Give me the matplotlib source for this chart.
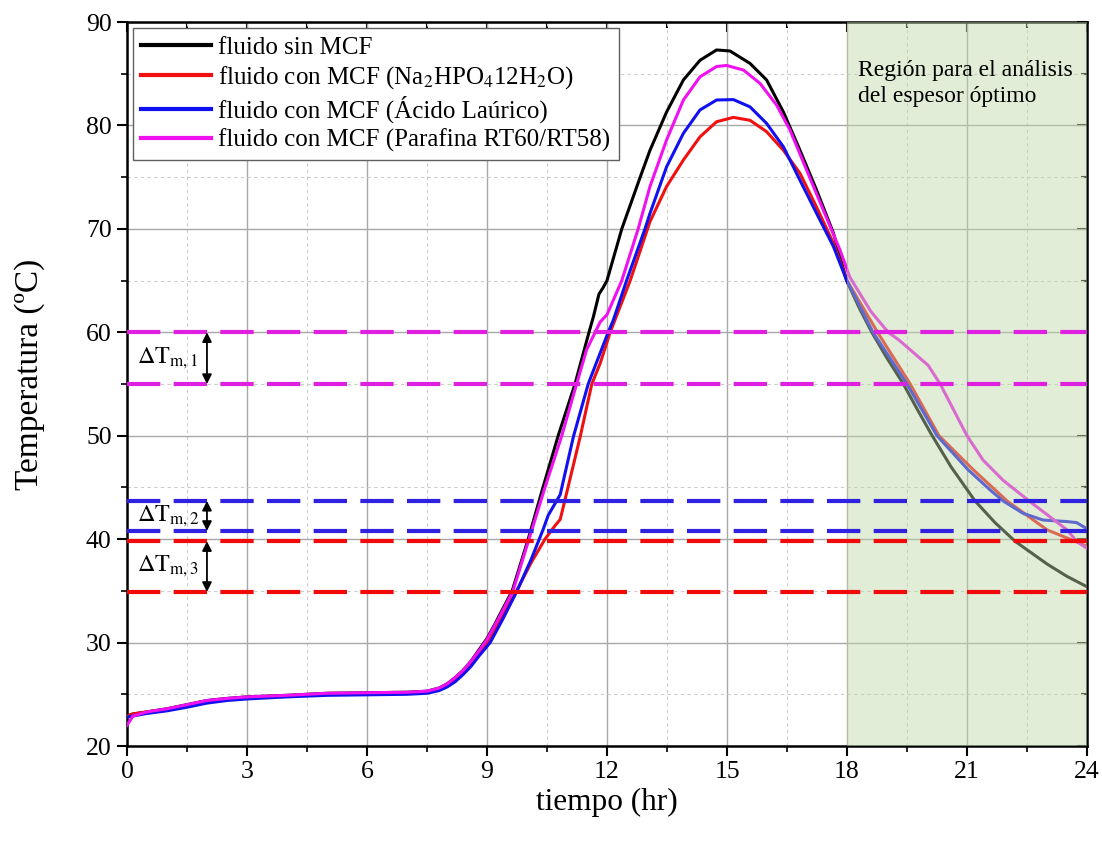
import matplotlib
matplotlib.use("Agg")
import matplotlib.pyplot as plt
from matplotlib.ticker import MultipleLocator

plt.rcParams['font.family'] = ['Liberation Serif', 'DejaVu Serif']
plt.rcParams['mathtext.fontset'] = 'stix'

# --- curves (hora, temperatura) ---
t_sin = [0, 0.15, 0.5, 1.0, 1.5, 2.0, 2.5, 3.0, 4.0, 5.0, 6.0, 7.0, 7.5, 7.8, 8.0, 8.2, 8.4,
         8.6, 8.8, 9.0, 9.2, 9.4, 9.63, 10.03, 10.4, 10.78, 11.2, 11.55, 11.66, 11.8, 11.9,
         12.0, 12.37, 12.83, 13.075, 13.49, 13.91, 14.325, 14.74, 15.075, 15.575, 15.99,
         16.41, 16.825, 17.24, 17.66, 17.99, 18.3, 18.62, 19.0, 19.41, 19.75, 20.1, 20.6,
         21.2, 21.7, 22.2, 23.0, 23.5, 24.0]
T_sin = [22.9, 23.1, 23.3, 23.6, 24.0, 24.4, 24.6, 24.75, 24.9, 25.1, 25.15, 25.2, 25.3, 25.6,
         26.0, 26.6, 27.3, 28.2, 29.3, 30.4, 31.8, 33.3, 35.0, 40.0, 45.0, 50.0, 55.0, 60.0,
         61.5, 63.7, 64.3, 65.0, 70.0, 75.0, 77.6, 81.3, 84.4, 86.3, 87.3, 87.2, 86.0, 84.4,
         81.3, 77.6, 73.75, 69.6, 65.0, 62.4, 60.0, 57.5, 55.0, 52.6, 50.2, 47.0, 43.7, 41.6,
         39.8, 37.6, 36.4, 35.4]

t_sal = [0, 0.15, 0.5, 1.0, 1.5, 2.0, 2.5, 3.0, 4.0, 5.0, 6.0, 7.0, 7.5, 7.8, 8.0, 8.2, 8.4,
         8.6, 8.8, 9.0, 9.2, 9.4, 9.74, 10.1, 10.45, 10.7, 10.83, 10.95, 11.33, 11.62, 11.83,
         12.08, 12.2, 12.58, 13.075, 13.49, 13.91, 14.325, 14.74, 15.16, 15.575, 15.99, 16.41,
         16.825, 17.24, 17.66, 18.0, 18.78, 19.58, 20.3, 21.16, 22.0, 23.0, 23.7, 24.0]
T_sal = [22.9, 23.1, 23.3, 23.55, 23.9, 24.3, 24.5, 24.65, 24.85, 25.0, 25.05, 25.1, 25.2, 25.5,
         25.9, 26.4, 27.1, 27.9, 28.9, 30.0, 31.3, 32.7, 35.0, 37.7, 40.0, 41.3, 41.9, 43.8,
         49.9, 55.0, 57.0, 60.0, 61.2, 65.0, 70.7, 74.1, 76.66, 78.9, 80.36, 80.78, 80.5, 79.4,
         77.6, 75.37, 72.1, 68.6, 65.0, 59.9, 55.0, 50.0, 46.7, 43.7, 40.9, 39.8, 39.3]

t_lau = [0, 0.15, 0.5, 1.0, 1.5, 2.0, 2.5, 3.0, 4.0, 5.0, 6.0, 7.0, 7.5, 7.8, 8.0, 8.2, 8.4,
         8.6, 8.8, 9.08, 9.4, 9.74, 10.1, 10.4, 10.53, 10.83, 11.16, 11.53, 11.83, 12.03, 12.16,
         12.49, 12.95, 13.075, 13.49, 13.91, 14.325, 14.74, 15.16, 15.575, 15.99, 16.41,
         16.825, 17.24, 17.66, 17.99, 18.65, 19.5, 20.25, 21.03, 21.58, 21.9, 22.4, 22.9,
         23.5, 23.74, 24.0]
T_lau = [22.8, 22.9, 23.15, 23.4, 23.75, 24.15, 24.4, 24.55, 24.75, 24.9, 24.95, 25.0, 25.1,
         25.35, 25.7, 26.2, 26.9, 27.7, 28.7, 30.0, 32.3, 34.9, 38.0, 40.9, 42.3, 44.3, 49.9,
         55.0, 58.0, 60.0, 61.2, 65.0, 70.0, 71.5, 76.0, 79.24, 81.5, 82.46, 82.5, 81.8, 80.2,
         77.94, 74.7, 71.5, 68.3, 65.05, 60.0, 55.0, 50.0, 46.7, 44.75, 43.7, 42.5, 41.85,
         41.7, 41.6, 41.0]

t_par = [0, 0.15, 0.5, 1.0, 1.5, 2.0, 2.5, 3.0, 4.0, 5.0, 6.0, 7.0, 7.5, 7.8, 8.0, 8.2, 8.4,
         8.6, 8.8, 9.0, 9.3, 9.65, 10.05, 10.45, 10.87, 11.24, 11.49, 11.83, 12.0, 12.37, 12.78,
         13.075, 13.49, 13.91, 14.325, 14.74, 14.99, 15.41, 15.825, 16.24, 16.575, 16.99,
         17.41, 17.825, 18.075, 18.6, 19.03, 19.3, 20.03, 20.33, 21.0, 21.4, 21.9, 22.55,
         23.5, 23.74, 24.0]
T_par = [22.0, 22.9, 23.3, 23.6, 24.0, 24.4, 24.6, 24.75, 24.9, 25.1, 25.15, 25.2, 25.3, 25.6,
         26.0, 26.6, 27.3, 28.2, 29.2, 30.3, 32.4, 35.0, 40.0, 45.0, 50.0, 55.0, 58.3, 61.0,
         61.7, 65.0, 70.0, 74.1, 78.6, 82.46, 84.7, 85.7, 85.8, 85.36, 84.07, 81.97, 79.56,
         75.7, 71.8, 67.95, 65.3, 62.0, 60.0, 59.25, 56.8, 55.0, 50.0, 47.65, 45.7, 43.7,
         40.9, 39.8, 39.1]

labels = ['fluido sin MCF',
          'fluido con MCF (Na$_2$HPO$_4$12H$_2$O)',
          'fluido con MCF (Ácido Laúrico)',
          'fluido con MCF (Parafina RT60/RT58)']
colors = ['#000000', '#f01010', '#1010f0', '#f010f0']

# rango de fusion de cada MCF
tm_par = [60.0, 55.0]
tm_lau = [43.7, 40.8]
tm_sal = [39.8, 34.9]
dash_colors = ['#e020e0', '#3020e0', '#f00a0a']
delta_labels = [r'$\Delta\mathrm{T}_{\mathrm{m,1}}$',
                r'$\Delta\mathrm{T}_{\mathrm{m,2}}$',
                r'$\Delta\mathrm{T}_{\mathrm{m,3}}$']

region = [18, 24]
region_text = 'Región para el análisis\ndel espesor óptimo'

fig = plt.figure(figsize=(11.02, 8.44), dpi=100)
ax = fig.add_axes([0.1152, 0.1161, 0.8712, 0.8578])

series = [(t_sin, T_sin), (t_sal, T_sal), (t_lau, T_lau), (t_par, T_par)]
for (t, T), c, lab in zip(series, colors, labels):
    ax.plot(t, T, color=c, lw=2.2, label=lab, zorder=3, solid_joinstyle='round')

ax.axvspan(region[0], region[1], facecolor='#bed9a6', alpha=0.45, edgecolor='none', zorder=4)

for pair, c, lab in zip([tm_par, tm_lau, tm_sal], dash_colors, delta_labels):
    for v in pair:
        ax.axhline(v, color=c, lw=3.0, dashes=(8, 3.2), zorder=5)
    ax.annotate('', xy=(2.0, pair[0]), xytext=(2.0, pair[1]),
                arrowprops=dict(arrowstyle='<|-|>', color='black', lw=1.3,
                                mutation_scale=14, shrinkA=0, shrinkB=0), zorder=6)
    ax.text(0.25, (pair[0] + pair[1]) / 2, lab, fontsize=17.5, va='center', ha='left', zorder=6)

ax.text(18.28, 86.3, region_text, fontsize=17, va='top', ha='left', linespacing=1.3, zorder=6)

ax.set_xlim(0, 24)
ax.set_ylim(20, 90)
ax.xaxis.set_major_locator(MultipleLocator(3))
ax.xaxis.set_minor_locator(MultipleLocator(1.5))
ax.yaxis.set_major_locator(MultipleLocator(10))
ax.yaxis.set_minor_locator(MultipleLocator(5))
ax.grid(which='major', color='#a8a8a8', lw=1.0, zorder=0)
ax.grid(which='minor', color='#cccccc', lw=0.8, ls=(0, (3, 3)), zorder=0)
ax.set_axisbelow(True)
ax.tick_params(which='major', direction='out', length=7, width=1.5, labelsize=18.5, pad=4)
ax.tick_params(which='minor', direction='out', length=4, width=1.2)
for s in ax.spines.values():
    s.set_linewidth(1.8)

secx = ax.secondary_xaxis('top')
secx.xaxis.set_major_locator(MultipleLocator(3))
secx.xaxis.set_minor_locator(MultipleLocator(1.5))
secx.tick_params(which='both', direction='in', labeltop=False, width=1.5)
secx.tick_params(which='major', length=7)
secx.tick_params(which='minor', length=4)
secy = ax.secondary_yaxis('right')
secy.yaxis.set_major_locator(MultipleLocator(10))
secy.yaxis.set_minor_locator(MultipleLocator(5))
secy.tick_params(which='both', direction='in', labelright=False, width=1.5)
secy.tick_params(which='major', length=7)
secy.tick_params(which='minor', length=4)

ax.set_xlabel('tiempo (hr)', fontsize=22.5, labelpad=3)
ax.set_ylabel('Temperatura (ºC)', fontsize=24)
ax.yaxis.set_label_coords(-0.085, 0.514)

leg = ax.legend(loc='upper left', bbox_to_anchor=(0.006, 0.992), borderaxespad=0,
                fontsize=18, handlelength=2.8, handletextpad=0.25, labelspacing=0.2,
                fancybox=False, framealpha=1, edgecolor='#606060', borderpad=0.35)
leg.get_frame().set_linewidth(1.0)
for h in leg.get_lines():
    h.set_linewidth(3)

fig.savefig('out.png', dpi=100)
